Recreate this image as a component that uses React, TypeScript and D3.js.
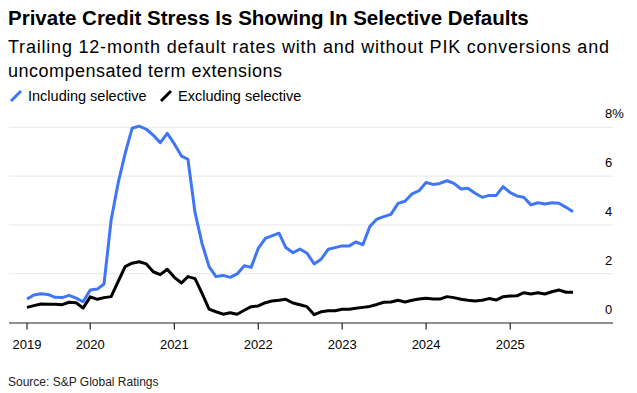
import React, { useRef, useEffect } from 'react';
import * as d3 from 'd3';

// monthly, Apr 2019 .. Oct 2025
const startMonth = new Date(2019, 3, 1);
const includingSelective = [
  0.96, 1.13, 1.18, 1.15, 1.03, 1.02, 1.11, 1.0, 0.85,
  1.33, 1.37, 1.58, 4.2, 5.7, 6.93, 7.96, 8.05, 7.92, 7.68, 7.37, 7.75,
  7.32, 6.82, 6.69, 4.5, 3.25, 2.29, 1.88, 1.93, 1.85, 1.99, 2.33, 2.26,
  3.04, 3.45, 3.55, 3.66, 3.07, 2.86, 3.01, 2.84, 2.4, 2.59, 3.0, 3.07,
  3.14, 3.14, 3.3, 3.19, 3.93, 4.24, 4.34, 4.43, 4.88, 4.97, 5.27, 5.4,
  5.74, 5.66, 5.7, 5.81, 5.7, 5.47, 5.5, 5.3, 5.13, 5.21, 5.21, 5.57,
  5.32, 5.18, 5.13, 4.82, 4.91, 4.86, 4.91, 4.89, 4.72, 4.54
];
const excludingSelective = [
  0.62, 0.69, 0.76, 0.75, 0.75, 0.73, 0.83, 0.81, 0.59,
  1.05, 0.95, 1.02, 1.06, 1.67, 2.29, 2.43, 2.49, 2.4, 2.08, 1.96, 2.18,
  1.85, 1.62, 1.88, 1.8, 1.2, 0.55, 0.44, 0.34, 0.4, 0.34, 0.5, 0.65,
  0.68, 0.81, 0.88, 0.91, 0.95, 0.8, 0.73, 0.65, 0.32, 0.44, 0.48, 0.48,
  0.54, 0.54, 0.58, 0.62, 0.66, 0.74, 0.83, 0.84, 0.91, 0.84, 0.91, 0.96,
  0.99, 0.96, 0.96, 1.06, 1.02, 0.95, 0.91, 0.88, 0.91, 0.98, 0.92, 1.06,
  1.09, 1.1, 1.22, 1.17, 1.22, 1.17, 1.26, 1.33, 1.24, 1.24
];
const yearTicks = ['2019', '2020', '2021', '2022', '2023', '2024', '2025'];
const yTicks = [0, 2, 4, 6, 8];

const BLUE = '#3f76f6';
const FONT = '"Liberation Sans", Arial, Helvetica, sans-serif';

const App = () => {
  const ref = useRef<SVGSVGElement>(null);

  useEffect(() => {
    const width = 637;
    const height = 393;
    const svg = d3.select(ref.current)
      .attr('width', width)
      .attr('height', height)
      .attr('font-family', FONT);
    svg.selectAll('*').remove();

    const dates = includingSelective.map((_, i) => d3.timeMonth.offset(startMonth, i));
    const x = d3.scaleTime()
      .domain([dates[0], dates[dates.length - 1]])
      .range([27, 573]);
    const y = d3.scaleLinear().domain([0, 8]).range([322.5, 127.3]);

    // header
    svg.append('text')
      .attr('x', 8).attr('y', 25)
      .attr('font-size', 20.5).attr('font-weight', 'bold').attr('fill', '#000')
      .text('Private Credit Stress Is Showing In Selective Defaults');
    const sub = svg.append('text')
      .attr('font-size', 18).attr('fill', '#000');
    sub.append('tspan').attr('x', 8).attr('y', 53)
      .attr('textLength', 601).attr('lengthAdjust', 'spacing')
      .text('Trailing 12-month default rates with and without PIK conversions and');
    sub.append('tspan').attr('x', 8).attr('y', 77)
      .attr('textLength', 274).attr('lengthAdjust', 'spacing')
      .text('uncompensated term extensions');

    // legend
    const legend = [
      { name: 'Including selective', color: BLUE, x: 10 },
      { name: 'Excluding selective', color: '#000', x: 160 }
    ];
    const lg = svg.append('g').selectAll('g').data(legend).join('g');
    lg.append('line')
      .attr('x1', d => d.x + 1).attr('y1', 101)
      .attr('x2', d => d.x + 11).attr('y2', 91)
      .attr('stroke', d => d.color).attr('stroke-width', 3);
    lg.append('text')
      .attr('x', d => d.x + 18).attr('y', 101)
      .attr('font-size', 14.5).attr('fill', '#000')
      .text(d => d.name);

    // grid
    svg.append('g').selectAll('line')
      .data(yTicks.filter(d => d !== 0))
      .join('line')
      .attr('x1', 9).attr('x2', 613)
      .attr('y1', d => y(d)).attr('y2', d => y(d))
      .attr('stroke', '#e8e8e8').attr('stroke-width', 1);

    svg.append('g').selectAll('text')
      .data(yTicks)
      .join('text')
      .attr('x', 605).attr('y', d => y(d) - 9)
      .attr('font-size', 13).attr('fill', '#000')
      .text(d => d === 8 ? '8%' : String(d));

    // lines
    const line = d3.line<number>()
      .x((_, i) => x(dates[i]))
      .y(d => y(d))
      .curve(d3.curveLinear);
    svg.append('path')
      .datum(includingSelective)
      .attr('fill', 'none').attr('stroke', BLUE).attr('stroke-width', 3)
      .attr('stroke-linejoin', 'round')
      .attr('d', line);
    svg.append('path')
      .datum(excludingSelective)
      .attr('fill', 'none').attr('stroke', '#000').attr('stroke-width', 3)
      .attr('stroke-linejoin', 'round')
      .attr('d', line);

    // x axis
    svg.append('line')
      .attr('x1', 9).attr('x2', 613)
      .attr('y1', y(0) + 0.5).attr('y2', y(0) + 0.5)
      .attr('stroke', '#222').attr('stroke-width', 1.2);
    const tickDates = yearTicks.map((t, i) => i === 0 ? dates[0] : new Date(+t, 0, 1));
    const xt = svg.append('g').selectAll('g').data(tickDates).join('g')
      .attr('transform', d => `translate(${x(d)},0)`);
    xt.append('line')
      .attr('y1', y(0) + 0.5).attr('y2', y(0) + 7)
      .attr('stroke', '#222').attr('stroke-width', 1.2);
    xt.append('text')
      .attr('y', 349).attr('text-anchor', 'middle')
      .attr('font-size', 13).attr('fill', '#000')
      .text((_, i) => yearTicks[i]);

    svg.append('text')
      .attr('x', 8).attr('y', 386)
      .attr('font-size', 12).attr('fill', '#222')
      .text('Source: S&P Global Ratings');
  }, []);

  return (
    <div style={{ position: 'absolute', left: 0, top: 0 }}>
      <svg ref={ref} style={{ display: 'block' }} />
    </div>
  );
};

export default App;
